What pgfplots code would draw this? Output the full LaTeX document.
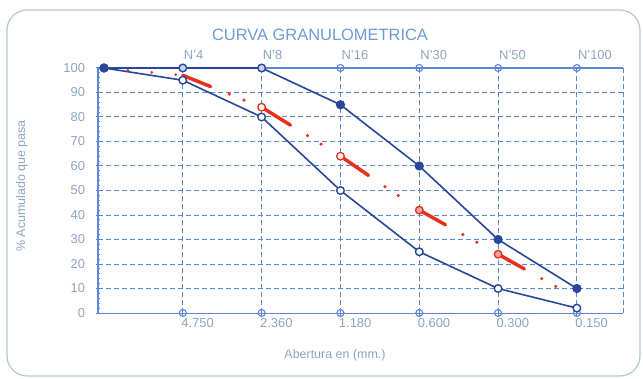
\documentclass[border=0pt]{standalone}
\usepackage{pgfplots}
\pgfplotsset{compat=1.18}
\usepackage{fontspec}
\setmainfont{Liberation Sans}
\definecolor{navy}{HTML}{28479A}
\definecolor{gridb}{HTML}{5A88D6}
\definecolor{txt}{HTML}{8EA3C2}
\definecolor{ttl}{HTML}{6E9BD2}
\definecolor{framec}{HTML}{B3C6D6}
\definecolor{redc}{HTML}{E8301E}
\begin{document}
\begin{tikzpicture}[x=1bp,y=1bp]
\useasboundingbox (0,0) rectangle (643,378);
\draw[framec, line width=1.2bp, rounded corners=20bp] (7,2) rectangle (640,368);
\node[ttl, font=\fontsize{16.5}{19}\selectfont] at (320,343) {CURVA GRANULOMETRICA};
\node[txt, font=\fontsize{12.5}{14}\selectfont] at (335,23) {Abertura en (mm.)};
\node[txt, font=\fontsize{12.5}{14}\selectfont, rotate=90] at (22,192) {\% Acumulado que pasa};
\begin{axis}[
  at={(98bp,65bp)}, anchor=south west,
  scale only axis, width=525bp, height=245bp,
  xmin=-0.076, xmax=6.585, ymin=0, ymax=100,
  clip=false,
  axis line style={draw=none},
  xtick={1,2,3,4,5,6},
  xticklabels={4.750,2.360,1.180,0.600,0.300,0.150},
  ytick={0,10,...,100},
  tick pos=left,
  tick align=center,
  major tick length=5bp,
  tick style={gridb, line width=1bp},
  minor y tick num=4,
  minor tick length=3bp,
  minor y tick style={gridb},
  grid=major,
  major grid style={gridb, line width=1bp, dash pattern=on 5bp off 3bp},
  xticklabel style={txt, font=\fontsize{13}{15}\selectfont, anchor=north west, xshift=-5bp, yshift=1bp},
  yticklabel style={txt, font=\fontsize{13}{15}\selectfont, xshift=-7bp},
  /pgf/number format/assume math mode=true,
]
\draw[gridb, line width=1bp, dash pattern=on 5bp off 3bp] (rel axis cs:1,1) -- (rel axis cs:1,0) -- (rel axis cs:0,0);
\draw[gridb, line width=1.4bp] (rel axis cs:0,0) -- (rel axis cs:0,1) -- (rel axis cs:1,1);
\node[txt, font=\fontsize{13}{15}\selectfont, anchor=west] at (axis cs:0.97,100) [yshift=13bp] {N'4};
\node[txt, font=\fontsize{13}{15}\selectfont, anchor=west] at (axis cs:1.97,100) [yshift=13bp] {N'8};
\node[txt, font=\fontsize{13}{15}\selectfont, anchor=west] at (axis cs:2.97,100) [yshift=13bp] {N'16};
\node[txt, font=\fontsize{13}{15}\selectfont, anchor=west] at (axis cs:3.97,100) [yshift=13bp] {N'30};
\node[txt, font=\fontsize{13}{15}\selectfont, anchor=west] at (axis cs:4.97,100) [yshift=13bp] {N'50};
\node[txt, font=\fontsize{13}{15}\selectfont, anchor=west] at (axis cs:5.97,100) [yshift=13bp] {N'100};
% axis circles
\addplot[only marks, mark=o, mark size=3.5bp, gridb, mark options={line width=1.1bp}] coordinates {(1,0)(2,0)(3,0)(4,0)(5,0)(6,0)(2,100)(3,100)(4,100)(5,100)(6,100)};
% lower limit
\addplot[navy, line width=1.6bp, mark=*, mark size=3.8bp, mark options={fill=white, draw=navy, line width=1.4bp}] coordinates {(0,100)(1,95)(2,80)(3,50)(4,25)(5,10)(6,2)};
% upper limit
\addplot[navy, line width=1.6bp, mark=*, mark size=3.8bp, mark indices={1,4,5,6,7}, mark options={fill=navy}] coordinates {(0,100)(1,100)(2,100)(3,85)(4,60)(5,30)(6,10)};
\addplot[only marks, mark=*, mark size=3.8bp, mark indices={2,3}, mark options={fill=gridb!35, draw=navy, line width=1.4bp}] coordinates {(0,100)(1,100)(2,100)(3,85)(4,60)(5,30)(6,10)};
% sample
\addplot[redc, line width=3bp, line cap=round, dash pattern=on 0bp off 24bp] coordinates {(0,100)(1,97)};
\addplot[redc, line width=3.5bp, line cap=round, dash pattern=on 30bp off 20bp on 0bp off 16bp on 0bp off 100bp] coordinates {(1,97)(2,84)};
\addplot[redc, line width=3.5bp, line cap=round, dash pattern=on 34bp off 20bp on 0bp off 16bp on 0bp off 100bp] coordinates {(2,84)(3,64)};
\addplot[redc, line width=3.5bp, line cap=round, dash pattern=on 34bp off 20bp on 0bp off 16bp on 0bp off 100bp] coordinates {(3,64)(4,42)};
\addplot[redc, line width=3.5bp, line cap=round, dash pattern=on 30bp off 20bp on 0bp off 16bp on 0bp off 100bp] coordinates {(4,42)(5,24)};
\addplot[redc, line width=3.5bp, line cap=round, dash pattern=on 30bp off 20bp on 0bp off 16bp on 0bp off 100bp] coordinates {(5,24)(6,6)};
\addplot[only marks, redc, mark=*, mark size=3.8bp, mark options={fill=white, draw=redc, line width=1.3bp}] coordinates {(2,84)(3,64)};
\addplot[only marks, redc, mark=*, mark size=3.8bp, mark options={fill=redc!45, draw=redc, line width=1.3bp}] coordinates {(4,42)(5,24)};
\end{axis}
\end{tikzpicture}
\end{document}
